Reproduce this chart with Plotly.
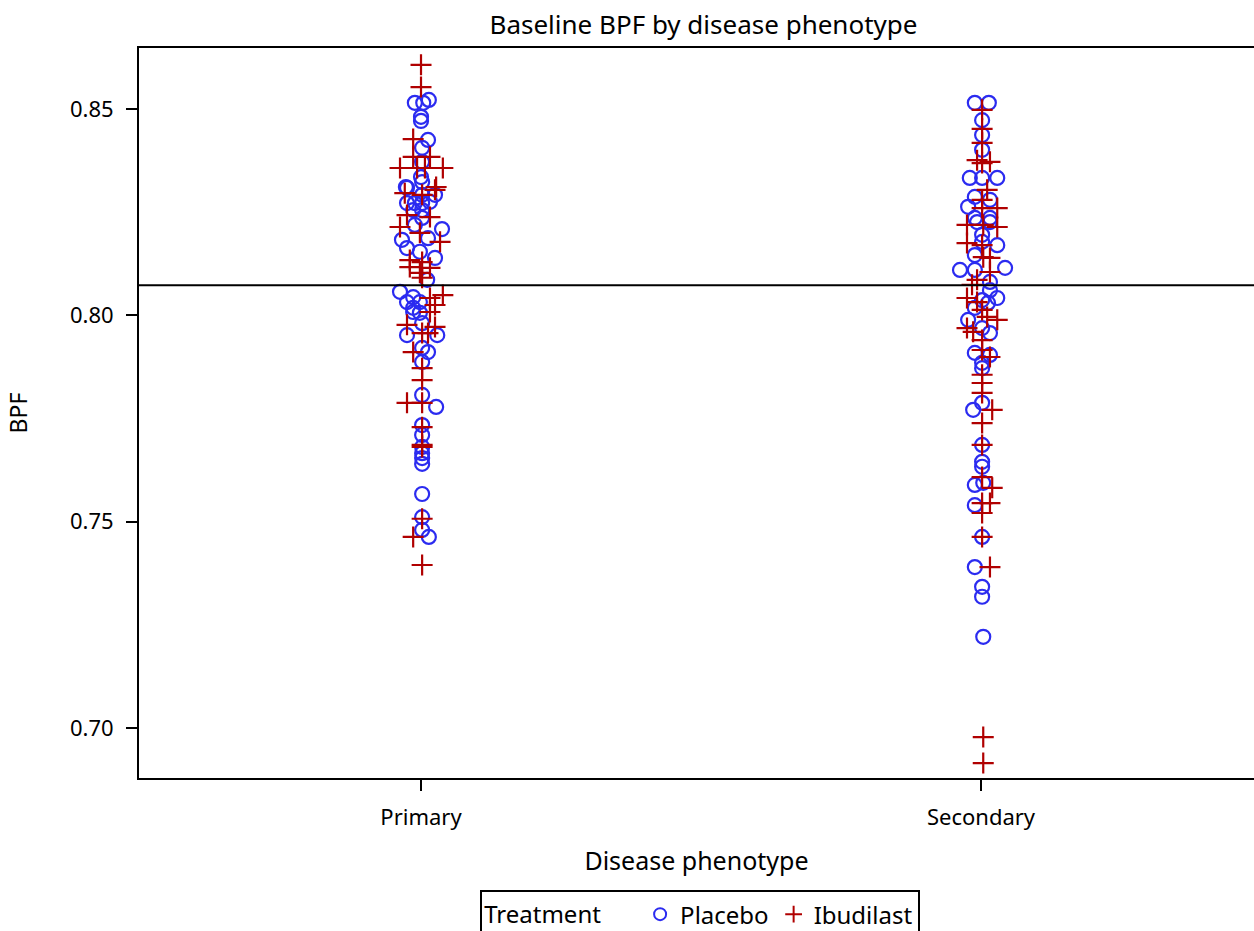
import plotly.graph_objects as go

categories = ["Primary", "Secondary"]

# Primary / Placebo
prim_pla_bpf = [0.8515, 0.8515, 0.8522, 0.8481, 0.8471, 0.8425, 0.8406, 0.8372, 0.8335, 0.8311,
                0.8309, 0.8323, 0.8292, 0.8292, 0.8272, 0.8272, 0.8272, 0.8275, 0.8255, 0.8255,
                0.8236, 0.8219, 0.8209, 0.8187, 0.8183, 0.8163, 0.8154, 0.8139, 0.8086, 0.8057,
                0.8044, 0.8032, 0.8032, 0.8018, 0.8006, 0.8008, 0.7981, 0.7952, 0.7952, 0.7921,
                0.7911, 0.7887, 0.7807, 0.7778, 0.7734, 0.7710, 0.7681, 0.7666, 0.7654, 0.7640,
                0.7567, 0.7511, 0.7480, 0.7463]
prim_pla_jit = [-0.011, 0.004, 0.014, 0.0, 0.0, 0.0125, 0.002, 0.002, 0.0, -0.027,
                -0.025, 0.002, 0.002, 0.025, -0.025, -0.011, 0.002, 0.016, -0.014, 0.002,
                0.002, -0.011, 0.0375, 0.0125, -0.034, -0.025, -0.002, 0.025, 0.011, -0.0375,
                -0.014, -0.025, -0.002, -0.014, -0.002, -0.014, 0.002, -0.025, 0.029, 0.002,
                0.0125, 0.002, 0.002, 0.027, 0.002, 0.002, 0.002, 0.002, 0.002, 0.002,
                0.002, 0.002, 0.002, 0.014]

# Primary / Ibudilast
prim_ibu_bpf = [0.8607, 0.8553, 0.8427, 0.8384, 0.8384, 0.8357, 0.8357, 0.8357, 0.8357, 0.8311,
                0.8296, 0.8304, 0.8292, 0.8243, 0.8238, 0.8214, 0.8200, 0.8178, 0.8134, 0.8129,
                0.8117, 0.8115, 0.8103, 0.8091, 0.8049, 0.8042, 0.8025, 0.8008, 0.7977, 0.7972,
                0.7957, 0.7957, 0.7911, 0.7872, 0.7843, 0.7788, 0.7788, 0.7729, 0.7686, 0.7681,
                0.7507, 0.7463, 0.7395]
prim_ibu_jit = [0.0, 0.0, -0.014, -0.014, 0.016, -0.0375, -0.007, 0.007, 0.039, 0.027,
                -0.029, 0.025, 0.002, -0.025, 0.016, -0.0375, -0.002, 0.034, -0.02, 0.002,
                -0.02, 0.016, -0.002, 0.002, 0.039, 0.016, 0.025, 0.016, -0.025, 0.025,
                0.002, 0.0125, -0.014, 0.002, 0.002, -0.025, 0.002, 0.002, 0.002, 0.002,
                0.002, -0.014, 0.002]

# Secondary / Placebo
sec_pla_bpf = [0.8515, 0.8515, 0.8473, 0.8437, 0.8401, 0.8333, 0.8333, 0.8333, 0.8287, 0.8280,
               0.8263, 0.8236, 0.8236, 0.8226, 0.8226, 0.8195, 0.8178, 0.8170, 0.8146, 0.8110,
               0.8110, 0.8115, 0.8081, 0.8061, 0.8037, 0.8042, 0.8030, 0.8018, 0.7989, 0.7969,
               0.7957, 0.7909, 0.7904, 0.7885, 0.7872, 0.7788, 0.7771, 0.7686, 0.7645, 0.7633,
               0.7589, 0.7594, 0.7540, 0.7463, 0.7390, 0.7342, 0.7318, 0.7221]
sec_pla_jit = [-0.011, 0.014, 0.002, 0.002, 0.002, -0.02, 0.002, 0.029, -0.011, 0.016,
               -0.023, -0.011, 0.016, -0.007, 0.016, 0.002, 0.002, 0.029, -0.011, -0.0375,
               -0.011, 0.043, 0.016, 0.016, 0.002, 0.029, 0.0125, -0.011, -0.023, 0.002,
               0.016, -0.011, 0.016, 0.002, 0.002, 0.002, -0.014, 0.002, 0.002, 0.002,
               -0.011, 0.004, -0.011, 0.002, -0.011, 0.002, 0.002, 0.004]

# Secondary / Ibudilast
sec_ibu_bpf = [0.8498, 0.8452, 0.8418, 0.8376, 0.8372, 0.8369, 0.8304, 0.8280, 0.8260, 0.8260,
               0.8219, 0.8219, 0.8214, 0.8175, 0.8170, 0.8141, 0.8139, 0.8105, 0.8086, 0.8074,
               0.8042, 0.8032, 0.8013, 0.7996, 0.7989, 0.7969, 0.7960, 0.7940, 0.7916, 0.7899,
               0.7856, 0.7836, 0.7812, 0.7771, 0.7739, 0.7686, 0.7608, 0.7582, 0.7545, 0.7545,
               0.7521, 0.7463, 0.7390, 0.6978, 0.6915]
sec_ibu_jit = [0.002, 0.002, 0.002, -0.007, 0.016, 0.002, 0.011, 0.002, 0.002, 0.029,
               -0.025, 0.004, 0.029, -0.025, 0.002, 0.004, 0.016, 0.016, -0.007, -0.016,
               -0.025, -0.007, 0.002, 0.011, 0.029, -0.025, -0.014, 0.002, 0.002, 0.016,
               0.002, 0.002, 0.002, 0.02, 0.002, 0.002, 0.002, 0.02, 0.002, 0.016,
               0.002, 0.002, 0.016, 0.004, 0.004]

reference_bpf = 0.8073

BLUE = "#2b2bf0"
RED = "#b00000"
FONT = "Noto Sans"


def xs(cat_index, jit):
    return [cat_index + j for j in jit]


fig = go.Figure()

fig.add_trace(go.Scatter(
    x=xs(0, prim_pla_jit) + xs(1, sec_pla_jit),
    y=prim_pla_bpf + sec_pla_bpf,
    mode="markers", name="Placebo",
    marker=dict(symbol="circle-open", size=14, color=BLUE, line=dict(width=2.2, color=BLUE)),
))
fig.add_trace(go.Scatter(
    x=xs(0, prim_ibu_jit) + xs(1, sec_ibu_jit),
    y=prim_ibu_bpf + sec_ibu_bpf,
    mode="markers", name="Ibudilast",
    marker=dict(symbol="cross-thin-open", size=15, color=RED, line=dict(width=2.2, color=RED)),
))

fig.add_hline(y=reference_bpf, line=dict(color="black", width=2))

fig.update_layout(
    width=1254, height=931,
    margin=dict(l=139, r=0, t=48, b=153, autoexpand=False),
    paper_bgcolor="white", plot_bgcolor="white",
    font=dict(family=FONT, size=21, color="black"),
    title=dict(text="Baseline BPF by disease phenotype", x=0.561, xanchor="center",
               y=0.9731, yanchor="middle", font=dict(family=FONT, size=26, color="black")),
    xaxis=dict(
        range=[-0.5036, 1.4875], tickvals=[0, 1], ticktext=categories,
        showline=True, linecolor="black", linewidth=2, mirror=True,
        ticks="outside", ticklen=11, tickwidth=2, tickcolor="black",
        showgrid=False, zeroline=False,
        ticklabelstandoff=8,
        title=dict(text="Disease phenotype", font=dict(size=25), standoff=22),
        tickfont=dict(size=22),
    ),
    yaxis=dict(
        range=[0.68788, 0.86478], tickvals=[0.70, 0.75, 0.80, 0.85],
        ticktext=["0.70", "0.75", "0.80", "0.85"],
        showline=True, linecolor="black", linewidth=2, mirror=False,
        ticks="outside", ticklen=11, tickwidth=2, tickcolor="black",
        showgrid=False, zeroline=False,
        ticklabelstandoff=8,
        title=dict(text="BPF", font=dict(size=23), standoff=36),
        tickfont=dict(size=22),
    ),
    legend=dict(
        title=dict(text="Treatment     ", font=dict(size=24), side="left"),
        orientation="h", x=0.306, xanchor="left", y=-0.1535, yanchor="top",
        bordercolor="black", borderwidth=2, font=dict(size=24),
        itemsizing="constant",
    ),
    showlegend=True,
)

fig.write_html(
    "out.html",
    config={"displayModeBar": False},
    post_script="document.body.style.margin='0';document.body.style.overflow='hidden';",
)
